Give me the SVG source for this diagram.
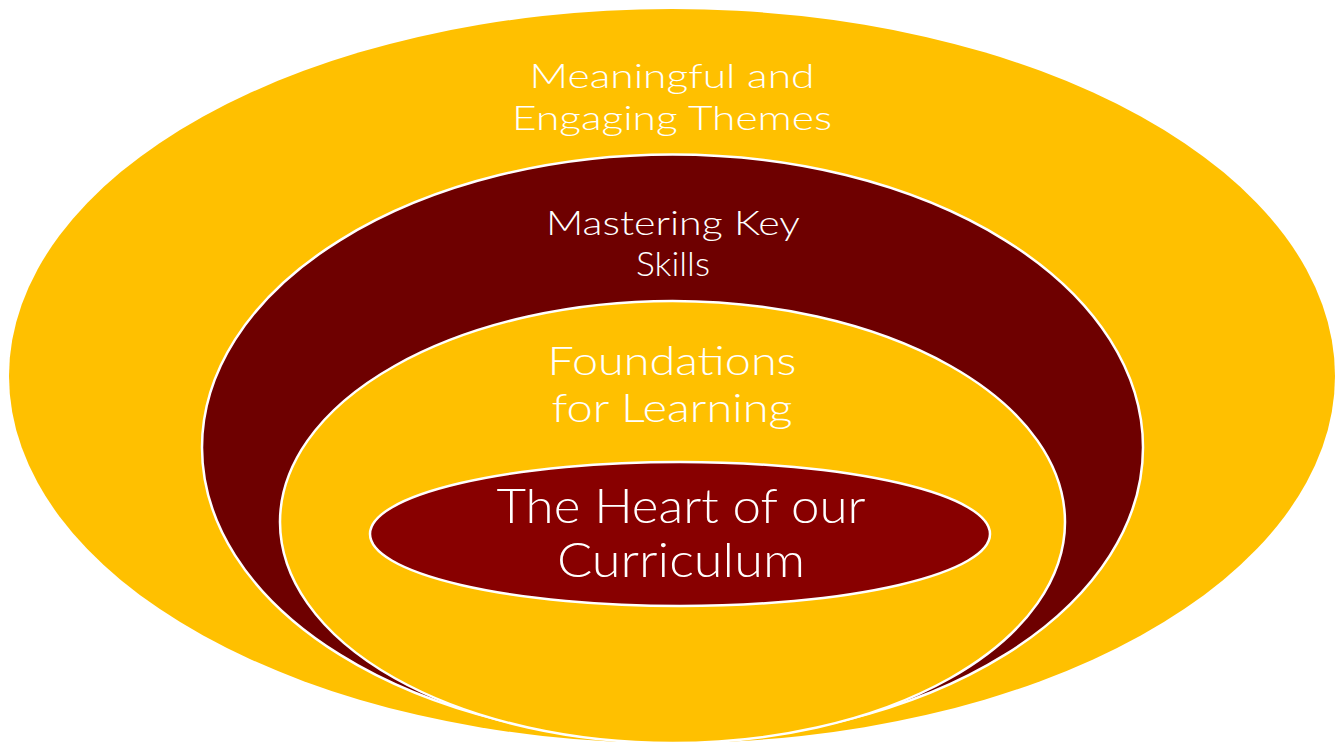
<svg xmlns="http://www.w3.org/2000/svg" width="1341" height="745" viewBox="0 0 1341 745">
<style>
.y{fill:#FFC000}
.r{fill:#6E0000}
.c{fill:#880000}
.s{stroke:#FFFFFF;stroke-width:2.5}
text{font-family:"Lato","DejaVu Sans",sans-serif;font-weight:300;fill:#FFFFFF;text-anchor:middle}
</style>
<rect width="1341" height="745" fill="#FFFFFF"/>
<g id="themes">
<ellipse class="y" cx="672" cy="376" rx="663" ry="367"/>
<text x="672" y="88" font-size="34" textLength="285" lengthAdjust="spacingAndGlyphs">Meaningful and</text>
<text x="672" y="130" font-size="34" textLength="320" lengthAdjust="spacingAndGlyphs">Engaging Themes</text>
</g>
<g id="skills">
<ellipse class="r s" cx="672.5" cy="447.5" rx="470.5" ry="293"/>
<text x="673" y="235" font-size="34" textLength="254" lengthAdjust="spacingAndGlyphs">Mastering Key</text>
<text x="673" y="276" font-size="34" textLength="74" lengthAdjust="spacingAndGlyphs">Skills</text>
</g>
<g id="foundations">
<ellipse class="y s" cx="672.5" cy="522" rx="392.5" ry="221"/>
<text x="672" y="375" font-size="39" textLength="249" lengthAdjust="spacingAndGlyphs">Foundations</text>
<text x="672" y="422" font-size="39" textLength="241" lengthAdjust="spacingAndGlyphs">for Learning</text>
</g>
<g id="heart">
<ellipse class="c s" cx="680" cy="534" rx="310" ry="72"/>
<text x="681" y="523" font-size="47" textLength="369" lengthAdjust="spacingAndGlyphs">The Heart of our</text>
<text x="681" y="577" font-size="47" textLength="248" lengthAdjust="spacingAndGlyphs">Curriculum</text>
</g>
<g id="connectors"/>
</svg>
